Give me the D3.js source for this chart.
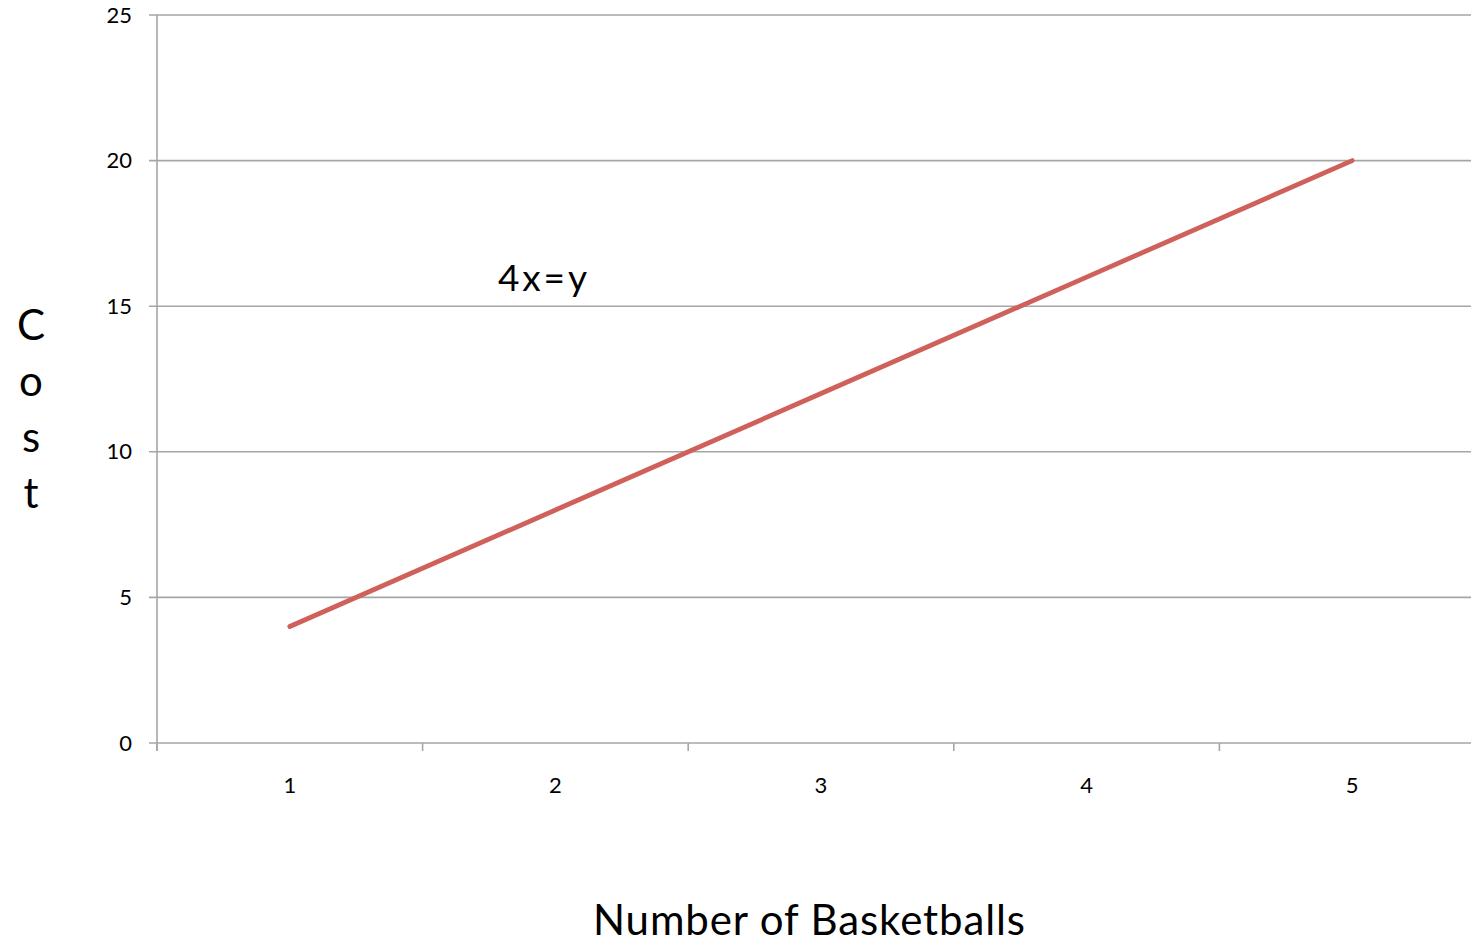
<!DOCTYPE html>
<html>
<head>
<meta charset="utf-8">
<script src="https://cdn.jsdelivr.net/npm/d3@7/dist/d3.min.js"></script>
<style>
  html, body { margin: 0; padding: 0; background: #fff; }
  svg { display: block; }
  text { font-family: Lato, "Open Sans", sans-serif; fill: #000; }
</style>
</head>
<body>
<svg id="chart" width="1471" height="944"></svg>
<script>
// Cost of basketballs at $4 each
const basketballs = ["1", "2", "3", "4", "5"];
const cost = [4, 8, 12, 16, 20];
const yTicks = [0, 5, 10, 15, 20, 25];
const equationLabel = "4x=y";
const xTitle = "Number of Basketballs";
const yTitle = "Cost";

const svg = d3.select("#chart");
const plotLeft = 157, plotTop = 15, plotBottom = 743;
const bandWidth = 265.6;

const x = d3.scaleBand()
  .domain(basketballs)
  .range([plotLeft, plotLeft + bandWidth * basketballs.length])
  .paddingInner(0).paddingOuter(0);

const y = d3.scaleLinear().domain([0, 25]).range([plotBottom, plotTop]);

const gridColor = "#a6a6a6";

// horizontal gridlines with short ticks to the left of the axis
svg.append("g").selectAll("line")
  .data(yTicks)
  .join("line")
  .attr("x1", plotLeft - 8)
  .attr("x2", x.range()[1])
  .attr("y1", d => y(d))
  .attr("y2", d => y(d))
  .attr("stroke", gridColor)
  .attr("stroke-width", 1.6);

// vertical axis line
svg.append("line")
  .attr("x1", plotLeft).attr("x2", plotLeft)
  .attr("y1", y(25)).attr("y2", y(0) + 8)
  .attr("stroke", gridColor).attr("stroke-width", 1.6);

// category boundary ticks below the x axis
const boundaries = basketballs.map(d => x(d)).concat([x.range()[1]]);
svg.append("g").selectAll("line")
  .data(boundaries)
  .join("line")
  .attr("x1", d => d).attr("x2", d => d)
  .attr("y1", y(0)).attr("y2", y(0) + 8)
  .attr("stroke", gridColor).attr("stroke-width", 1.6);

// y tick labels
svg.append("g").selectAll("text")
  .data(yTicks)
  .join("text")
  .attr("x", 132)
  .attr("y", d => y(d) + 2)
  .attr("text-anchor", "end")
  .attr("dominant-baseline", "middle")
  .attr("font-size", 22)
  .text(d => d);

// x tick labels
svg.append("g").selectAll("text")
  .data(basketballs)
  .join("text")
  .attr("x", d => x(d) + x.bandwidth() / 2)
  .attr("y", 793)
  .attr("text-anchor", "middle")
  .attr("font-size", 22)
  .text(d => d);

// the cost line
const line = d3.line()
  .x((d, i) => x(basketballs[i]) + x.bandwidth() / 2)
  .y(d => y(d));

svg.append("path")
  .datum(cost)
  .attr("d", line)
  .attr("fill", "none")
  .attr("stroke", "#d0605a")
  .attr("stroke-width", 4.8)
  .attr("stroke-linecap", "round");

// equation annotation
svg.append("text")
  .attr("x", 498)
  .attr("y", 291)
  .attr("font-size", 37)
  .attr("textLength", 89)
  .attr("lengthAdjust", "spacing")
  .text(equationLabel);

// x axis title
svg.append("text")
  .attr("x", 593)
  .attr("y", 935)
  .attr("font-size", 42)
  .attr("textLength", 432)
  .attr("lengthAdjust", "spacing")
  .text(xTitle);

// y axis title, stacked letters
svg.append("g").selectAll("text")
  .data(yTitle.split(""))
  .join("text")
  .attr("x", 31)
  .attr("y", (d, i) => 340 + i * 56)
  .attr("text-anchor", "middle")
  .attr("font-size", 42)
  .text(d => d);
</script>
</body>
</html>
